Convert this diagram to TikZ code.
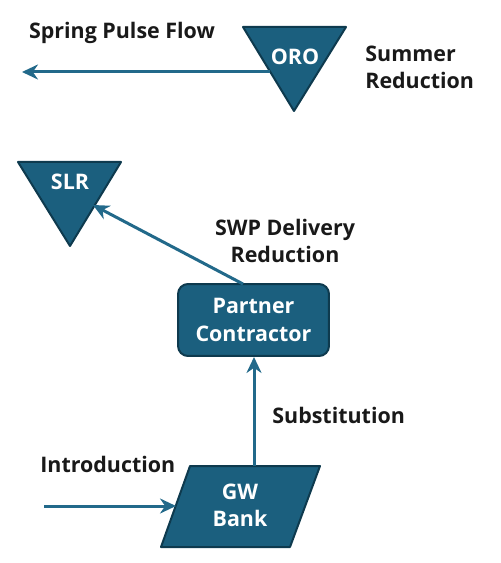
\documentclass[tikz,border=0pt]{standalone}
\usepackage{fontspec}
\setmainfont{Open Sans}
\usetikzlibrary{arrows.meta}
\definecolor{flowblue}{HTML}{1B5F7E}
\definecolor{flowedge}{HTML}{0E3A4E}
\definecolor{flowline}{HTML}{22698A}
\begin{document}
\begin{tikzpicture}[x=0.02cm,y=-0.02cm,
	shapebox/.style={fill=flowblue,draw=flowedge,line width=0.04cm,line join=round},
	inlabel/.style={text=white,font=\bfseries\fontsize{12.2}{15.5}\selectfont,align=center},
	outlabel/.style={text=black!90,inner sep=0pt,font=\bfseries\fontsize{12.2}{15.5}\selectfont},
	flow/.style={draw=flowline,line width=0.06cm,-{Stealth[length=0.32cm,width=0.3cm]}}]
			\useasboundingbox (0,0) rectangle (500,563);
			
			% reservoirs
			\draw[shapebox] (243,27) -- (346,27) -- (294,111) -- cycle;
			\node[inlabel] (oro) at (295,57) {ORO};
			\draw[shapebox] (18,162) -- (121,162) -- (70,246) -- cycle;
			\node[inlabel] (slr) at (70,182) {SLR};
			
			% partner contractor and groundwater bank
			\node[shapebox,rounded corners=0.2cm,minimum width=3.02cm,minimum height=1.44cm,inlabel] (pc) at (253.5,320) {Partner\\Contractor};
			\draw[shapebox] (190,466) -- (320,466) -- (290,547) -- (161,547) -- cycle;
			\node[inlabel] (gw) at (240,505) {GW\\Bank};
			
			\coordinate (oroleft) at (270,72);
			\coordinate (springend) at (22,72);
			\coordinate (slrtip) at (93,205);
			\coordinate (pctop) at (243,284);
			\coordinate (gwtop) at (254,466);
			\coordinate (introstart) at (44,506);
			\coordinate (gwleft) at (176,506);
			
			\draw[flow] (oroleft) -- (springend);
			\draw[flow] (pctop) -- (slrtip);
			\draw[flow] (gwtop) -- (pc.south -| gwtop);
			\draw[flow] (introstart) -- (gwleft);
			
			% labels
			\node[outlabel] (spring) at (122,33) {Spring Pulse Flow};
			\node[outlabel,align=left,anchor=west] (summer) at (365,67) {Summer\\Reduction};
			\node[outlabel,align=center] (swp) at (285,241) {SWP Delivery\\Reduction};
			\node[outlabel,anchor=west] (subst) at (272,415) {Substitution};
			\node[outlabel,anchor=west] (intro) at (40,464) {Introduction};
			\end{tikzpicture}
\end{document}
